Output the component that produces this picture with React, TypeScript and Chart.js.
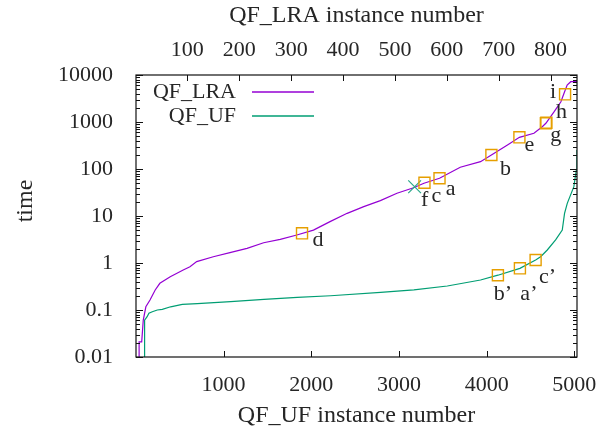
import { useEffect, useRef } from "react";
import { Chart, registerables } from "chart.js";

Chart.register(...registerables);

// ---- data ----
const lraInstance = [7, 7, 12, 15, 20, 28, 38, 47, 67, 92, 105, 118, 150, 182, 215, 247, 279, 311, 343, 375, 408, 440, 472, 504, 536, 556, 586, 626, 665, 686, 717, 740, 768, 784, 791, 807, 820, 826, 832, 839, 852];
const lraTime = [0.005, 0.021, 0.021, 0.061, 0.117, 0.163, 0.267, 0.37, 0.51, 0.71, 0.83, 1.07, 1.36, 1.66, 2.05, 2.7, 3.19, 3.94, 5.0, 7.6, 11.4, 15.8, 21.2, 30.4, 40, 49.7, 63.4, 109, 143, 199, 324, 472, 575, 794, 938, 1656, 2700, 4080, 6120, 7200, 7200];

const ufInstance = [99, 99, 128, 148, 187, 244, 301, 396, 529, 700, 1080, 1460, 1840, 2220, 2790, 3170, 3551, 3930, 4128, 4379, 4558, 4615, 4691, 4786, 4862, 4888, 4919, 4994, 5022, 5029];
const ufTime = [0.005, 0.061, 0.072, 0.085, 0.092, 0.1, 0.103, 0.117, 0.132, 0.136, 0.15, 0.169, 0.186, 0.201, 0.236, 0.267, 0.324, 0.435, 0.55, 0.77, 1.16, 1.36, 1.89, 3.1, 5.0, 11.4, 18.6, 42, 95, 253];

const lraMarkLabels = ["d", "c", "a", "b", "e", "g", "h", "i"];
const lraMarkInstance = [321, 557, 586, 686, 740, 791, 792, 828];
const lraMarkTime = [4.28, 51, 63.4, 199, 472, 938, 965, 3880];

const ufMarkLabels = ["b’", "a’", "c’"];
const ufMarkInstance = [4128, 4379, 4558];
const ufMarkTime = [0.55, 0.77, 1.16];

const crossLabels = ["f"];
const crossInstance = [538];
const crossTime = [42];

const yTickValues = [0.01, 0.1, 1, 10, 100, 1000, 10000];
const ufTickValues = [1000, 2000, 3000, 4000, 5000];
const lraTickValues = [100, 200, 300, 400, 500, 600, 700, 800];

const yTitle = "time";
const xTitle = "QF_UF instance number";
const x2Title = "QF_LRA instance number";

// ---- styling ----
const FONT = "'Liberation Serif', 'DejaVu Serif', serif";
const FS = 22;
const TFS = 24;
const TXT = "#262626";
const PURPLE = "#9400d3";
const GREEN = "#009e73";
const ORANGE = "#e69f00";
// label offsets in px (dx, dy to baseline-center) relative to marker
const labelOffset: Record<string, [number, number]> = {
  d: [16, 13],
  c: [12, 19],
  a: [11, 17],
  b: [14, 20],
  e: [10, 14],
  g: [10, 18],
  h: [15, -5],
  i: [-12, 4],
  f: [10, 19],
  "b’": [5, 25],
  "a’": [9, 32],
  "c’": [12, 23],
};

const pts = (xs: number[], ys: number[]) => xs.map((x, i) => ({ x, y: ys[i] }));

const decoPlugin = {
  id: "deco",
  afterDraw(chart: any) {
    const ctx = chart.ctx as CanvasRenderingContext2D;
    const a = chart.chartArea;
    const ys = chart.scales.y;
    const xs = chart.scales.x;
    const x2 = chart.scales.x2;
    ctx.save();
    ctx.strokeStyle = "#111";
    ctx.lineWidth = 1.2;
    ctx.strokeRect(a.left, a.top, a.right - a.left, a.bottom - a.top);
    ctx.lineWidth = 1;
    ctx.beginPath();
    for (let d = -2; d <= 4; d++) {
      for (let k = 1; k <= 9; k++) {
        const v = k * Math.pow(10, d);
        if (v < 0.01 - 1e-12 || v > 10000 + 1e-9) continue;
        const py = Math.round(ys.getPixelForValue(v)) + 0.5;
        const len = k === 1 ? 7 : 4;
        ctx.moveTo(a.left, py);
        ctx.lineTo(a.left + len, py);
        ctx.moveTo(a.right, py);
        ctx.lineTo(a.right - len, py);
      }
    }
    for (const v of ufTickValues) {
      const px = Math.round(xs.getPixelForValue(v)) + 0.5;
      ctx.moveTo(px, a.bottom);
      ctx.lineTo(px, a.bottom - 6);
    }
    for (const v of lraTickValues) {
      const px = Math.round(x2.getPixelForValue(v)) + 0.5;
      ctx.moveTo(px, a.top);
      ctx.lineTo(px, a.top + 6);
    }
    ctx.stroke();

    // y title (rotated)
    ctx.fillStyle = TXT;
    ctx.font = `${TFS}px ${FONT}`;
    ctx.save();
    ctx.translate(26, 201);
    ctx.rotate(-Math.PI / 2);
    ctx.textAlign = "center";
    ctx.textBaseline = "middle";
    ctx.fillText(yTitle, 0, 0);
    ctx.restore();

    // legend
    ctx.font = `${FS}px ${FONT}`;
    ctx.textAlign = "right";
    ctx.textBaseline = "alphabetic";
    const legendRows = [
      { label: chart.data.datasets[0].label, color: chart.data.datasets[0].borderColor, y: 98 },
      { label: chart.data.datasets[1].label, color: chart.data.datasets[1].borderColor, y: 122 },
    ];
    for (const r of legendRows) {
      ctx.fillText(r.label, 236, r.y);
      ctx.strokeStyle = r.color;
      ctx.lineWidth = 1.3;
      ctx.beginPath();
      ctx.moveTo(252, r.y - 6);
      ctx.lineTo(314, r.y - 6);
      ctx.stroke();
    }

    // marker labels
    ctx.textAlign = "center";
    const put = (labels: string[], ixs: number[], tys: number[], sx: any) => {
      labels.forEach((l, i) => {
        const px = sx.getPixelForValue(ixs[i]);
        const py = ys.getPixelForValue(tys[i]);
        const off = labelOffset[l] || [10, 15];
        ctx.fillText(l, px + off[0], py + off[1]);
      });
    };
    put(lraMarkLabels, lraMarkInstance, lraMarkTime, x2);
    put(crossLabels, crossInstance, crossTime, x2);
    put(ufMarkLabels, ufMarkInstance, ufMarkTime, xs);
    ctx.restore();
  },
};

export default function App() {
  const ref = useRef<HTMLCanvasElement | null>(null);
  useEffect(() => {
    if (!ref.current) return;
    const chart = new Chart(ref.current, {
      type: "scatter",
      data: {
        datasets: [
          {
            label: "QF_LRA",
            data: pts(lraInstance, lraTime),
            xAxisID: "x2",
            yAxisID: "y",
            showLine: true,
            borderColor: PURPLE,
            borderWidth: 1.2,
            pointRadius: 0,
            order: 2,
          },
          {
            label: "QF_UF",
            data: pts(ufInstance, ufTime),
            xAxisID: "x",
            yAxisID: "y",
            showLine: true,
            borderColor: GREEN,
            borderWidth: 1.2,
            pointRadius: 0,
            order: 2,
          },
          {
            label: "lra marks",
            data: pts(lraMarkInstance, lraMarkTime),
            xAxisID: "x2",
            yAxisID: "y",
            showLine: false,
            pointStyle: "rect",
            pointRadius: 7.8,
            borderColor: ORANGE,
            backgroundColor: "rgba(0,0,0,0)",
            borderWidth: 1.4,
            order: 0,
          },
          {
            label: "uf marks",
            data: pts(ufMarkInstance, ufMarkTime),
            xAxisID: "x",
            yAxisID: "y",
            showLine: false,
            pointStyle: "rect",
            pointRadius: 7.8,
            borderColor: ORANGE,
            backgroundColor: "rgba(0,0,0,0)",
            borderWidth: 1.4,
            order: 0,
          },
          {
            label: "cross",
            data: pts(crossInstance, crossTime),
            xAxisID: "x2",
            yAxisID: "y",
            showLine: false,
            pointStyle: "crossRot",
            pointRadius: 9,
            borderColor: "#2aa88a",
            borderWidth: 1.2,
            order: 1,
          },
        ],
      },
      options: {
        animation: false,
        responsive: false,
        devicePixelRatio: 1,
        layout: { padding: { left: 0, right: 35, top: 0, bottom: 0 } },
        plugins: { legend: { display: false }, tooltip: { enabled: false } },
        font: { family: FONT, size: FS },
        scales: {
          y: {
            type: "logarithmic",
            position: "left",
            min: 0.01,
            max: 10000,
            grid: { display: false },
            border: { display: false },
            afterBuildTicks: (s: any) => {
              s.ticks = yTickValues.map((v) => ({ value: v }));
            },
            afterFit: (s: any) => {
              s.width = 136;
            },
            ticks: {
              padding: 15,
              color: TXT,
              font: { family: FONT, size: FS },
              callback: (v: any) => String(Number(v)),
            },
            title: { display: false },
          },
          x: {
            type: "linear",
            position: "bottom",
            min: 1,
            max: 5030,
            grid: { display: false },
            border: { display: false },
            afterBuildTicks: (s: any) => {
              s.ticks = ufTickValues.map((v) => ({ value: v }));
            },
            afterFit: (s: any) => {
              s.height = 77;
            },
            ticks: {
              padding: 7,
              maxRotation: 0,
              color: TXT,
              font: { family: FONT, size: FS },
              callback: (v: any) => String(v),
            },
            title: {
              display: true,
              text: xTitle,
              color: TXT,
              font: { family: FONT, size: TFS },
              padding: { top: 0, bottom: 4 },
            },
          },
          x2: {
            type: "linear",
            position: "top",
            min: 1,
            max: 851,
            grid: { display: false },
            border: { display: false },
            afterBuildTicks: (s: any) => {
              s.ticks = lraTickValues.map((v) => ({ value: v }));
            },
            afterFit: (s: any) => {
              s.height = 75;
            },
            ticks: {
              padding: 4,
              maxRotation: 0,
              color: TXT,
              font: { family: FONT, size: FS },
              callback: (v: any) => String(v),
            },
            title: {
              display: true,
              text: x2Title,
              color: TXT,
              font: { family: FONT, size: TFS },
              padding: { top: 1, bottom: 0 },
            },
          },
        },
      },
      plugins: [decoPlugin],
    });
    return () => chart.destroy();
  }, []);
  return (
    <div style={{ position: "absolute", left: 0, top: 0, width: 612, height: 434, background: "#fff" }}>
      <canvas ref={ref} width={612} height={434} />
    </div>
  );
}
